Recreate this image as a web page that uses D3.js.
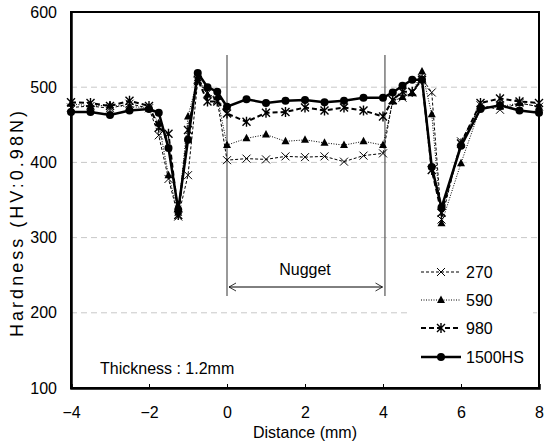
<!DOCTYPE html>
<html>
<head>
<meta charset="utf-8">
<script src="https://cdn.jsdelivr.net/npm/d3@7"></script>
<style>
  body { margin: 0; background: #fff; }
  svg text { font-family: "Liberation Sans", Arial, sans-serif; fill: #000; }
</style>
</head>
<body>
<svg id="chart" width="544" height="445"></svg>
<script>
// distance from nugget edge (mm)
const distance = [-4, -3.5, -3, -2.5, -2, -1.75, -1.5, -1.25, -1, -0.75, -0.5, -0.25,
    0, 0.5, 1, 1.5, 2, 2.5, 3, 3.5, 4, 4.25, 4.5, 4.75, 5, 5.25, 5.5, 6, 6.5, 7, 7.5, 8];

const hv270 = [473, 475, 472, 478, 472, 436, 378, 328, 383, 508, 492, 483,
    403, 405, 404, 408, 407, 408, 401, 409, 412, 483, 486, 493, 512, 493, 324, 428, 476, 470, 479, 474];
const hv590 = [478, 475, 476, 474, 473, 452, 383, 333, 461, 512, 490, 487,
    423, 432, 437, 428, 430, 426, 423, 428, 423, 481, 487, 492, 521, 464, 319, 399, 473, 474, 479, 474];
const hv980 = [480, 479, 475, 482, 475, 446, 438, 330, 443, 510, 481, 481,
    465, 454, 466, 467, 473, 469, 473, 469, 461, 483, 494, 494, 510, 390, 333, 425, 479, 485, 481, 479];
const hv1500 = [467, 467, 463, 469, 471, 466, 419, 337, 430, 519, 500, 494,
    474, 484, 479, 482, 483, 480, 482, 486, 486, 493, 502, 510, 510, 394, 340, 422, 471, 476, 469, 466];

const seriesNames = ['270', '590', '980', '1500HS'];
const seriesValues = [hv270, hv590, hv980, hv1500];
const xTicks = [-4, -2, 0, 2, 4, 6, 8];
const yTicks = [100, 200, 300, 400, 500, 600];
const gridTicks = [200, 300, 400, 500];

// line style per series
const styles = {
    '270':    { dash: '3,2', width: 1, marker: 'cross' },
    '590':    { dash: '1,1.5', width: 1, marker: 'triangle' },
    '980':    { dash: '5,3', width: 2, marker: 'star' },
    '1500HS': { dash: null, width: 2.5, marker: 'circle' }
};

const svg = d3.select('#chart');
const x = d3.scaleLinear().domain([-4, 8]).range([71, 539]);
const y = d3.scaleLinear().domain([100, 600]).range([388, 12]);

// grid
svg.append('g').selectAll('line').data(gridTicks).join('line')
    .attr('x1', x(-4)).attr('x2', x(8))
    .attr('y1', d => y(d)).attr('y2', d => y(d))
    .attr('stroke', '#c8c8c8').attr('stroke-width', 1).attr('stroke-dasharray', '6,4');

// nugget markers
[0, 4.05].forEach(v => {
    svg.append('line').attr('x1', x(v)).attr('x2', x(v)).attr('y1', 55).attr('y2', 296)
        .attr('stroke', '#555').attr('stroke-width', 1.2);
});
const ay = 287;
svg.append('line').attr('x1', x(0) + 2).attr('x2', x(4) - 0.5).attr('y1', ay).attr('y2', ay)
    .attr('stroke', '#000').attr('stroke-width', 1);
svg.append('path').attr('d', `M${x(0) + 9},${ay - 4} L${x(0) + 2},${ay} L${x(0) + 9},${ay + 4}`)
    .attr('fill', 'none').attr('stroke', '#000').attr('stroke-width', 0.8);
svg.append('path').attr('d', `M${x(4) - 7.5},${ay - 4} L${x(4) - 0.5},${ay} L${x(4) - 7.5},${ay + 4}`)
    .attr('fill', 'none').attr('stroke', '#000').attr('stroke-width', 0.8);
svg.append('text').attr('x', x(2)).attr('y', 275).attr('text-anchor', 'middle')
    .attr('font-size', 16).text('Nugget');

function drawMarker(g, type, cx, cy) {
    if (type === 'circle') {
        g.append('circle').attr('cx', cx).attr('cy', cy).attr('r', 4).attr('fill', '#000');
    } else if (type === 'triangle') {
        g.append('path').attr('d', `M${cx},${cy - 4.5} L${cx + 4},${cy + 3} L${cx - 4},${cy + 3}Z`).attr('fill', '#000');
    } else if (type === 'cross') {
        g.append('path').attr('d', `M${cx - 4},${cy - 4} L${cx + 4},${cy + 4} M${cx - 4},${cy + 4} L${cx + 4},${cy - 4}`)
            .attr('stroke', '#000').attr('stroke-width', 1);
    } else {
        g.append('path').attr('d', `M${cx - 4},${cy - 4} L${cx + 4},${cy + 4} M${cx - 4},${cy + 4} L${cx + 4},${cy - 4} M${cx},${cy - 5} L${cx},${cy + 5}`)
            .attr('stroke', '#000').attr('stroke-width', 1.4);
    }
}

const line = d3.line().x(d => x(d[0])).y(d => y(d[1]));

seriesNames.forEach((name, i) => {
    const st = styles[name];
    const pts = distance.map((d, j) => [d, seriesValues[i][j]]);
    const g = svg.append('g');
    g.append('path').datum(pts).attr('d', line)
        .attr('fill', 'none').attr('stroke', '#000').attr('stroke-width', st.width)
        .attr('stroke-dasharray', st.dash);
    pts.forEach(p => drawMarker(g, st.marker, x(p[0]), y(p[1])));
});

// frame + axes
svg.append('rect').attr('x', x(-4)).attr('y', y(600)).attr('width', x(8) - x(-4)).attr('height', y(100) - y(600))
    .attr('fill', 'none').attr('stroke', '#000').attr('stroke-width', 2);

const xAxis = svg.append('g').attr('transform', `translate(0,${y(100)})`)
    .call(d3.axisBottom(x).tickValues(xTicks).tickSize(-4).tickPadding(19).tickFormat(d3.format('d')));
xAxis.select('.domain').attr('stroke-width', 2.5);
xAxis.selectAll('.tick line').attr('stroke', '#000');
xAxis.selectAll('text').attr('font-size', 16).attr('fill', '#000')
    .style('font-family', '"Liberation Sans", Arial, sans-serif');

const yAxis = svg.append('g').attr('transform', `translate(${x(-4)},0)`)
    .call(d3.axisLeft(y).tickValues(yTicks).tickSize(0).tickPadding(14));
yAxis.select('.domain').attr('stroke-width', 2.5);
yAxis.selectAll('text').attr('font-size', 16).attr('fill', '#000')
    .style('font-family', '"Liberation Sans", Arial, sans-serif');

svg.append('text').attr('x', x(2)).attr('y', 438).attr('text-anchor', 'middle')
    .attr('font-size', 16).text('Distance (mm)');
svg.append('text').attr('transform', 'translate(17,224) rotate(-90)').attr('dy', '0.35em')
    .attr('text-anchor', 'middle').attr('font-size', 18)
    .attr('textLength', 226).attr('lengthAdjust', 'spacing')
    .text('Hardness  (HV:0.98N)');
svg.append('text').attr('x', 100).attr('y', 374).attr('font-size', 16).text('Thickness : 1.2mm');

// legend
const legend = svg.append('g');
legend.append('rect').attr('x', 408).attr('y', 256).attr('width', 125).attr('height', 116).attr('fill', '#fff');
const rowY = [272, 300, 328, 357];
seriesNames.forEach((name, i) => {
    const st = styles[name];
    legend.append('line').attr('x1', 421).attr('x2', 461).attr('y1', rowY[i]).attr('y2', rowY[i])
        .attr('stroke', '#000').attr('stroke-width', st.width).attr('stroke-dasharray', st.dash);
    drawMarker(legend, st.marker, 441, rowY[i]);
    legend.append('text').attr('x', 466).attr('y', rowY[i]).attr('dy', '0.35em')
        .attr('font-size', 16).text(name);
});
</script>
</body>
</html>
